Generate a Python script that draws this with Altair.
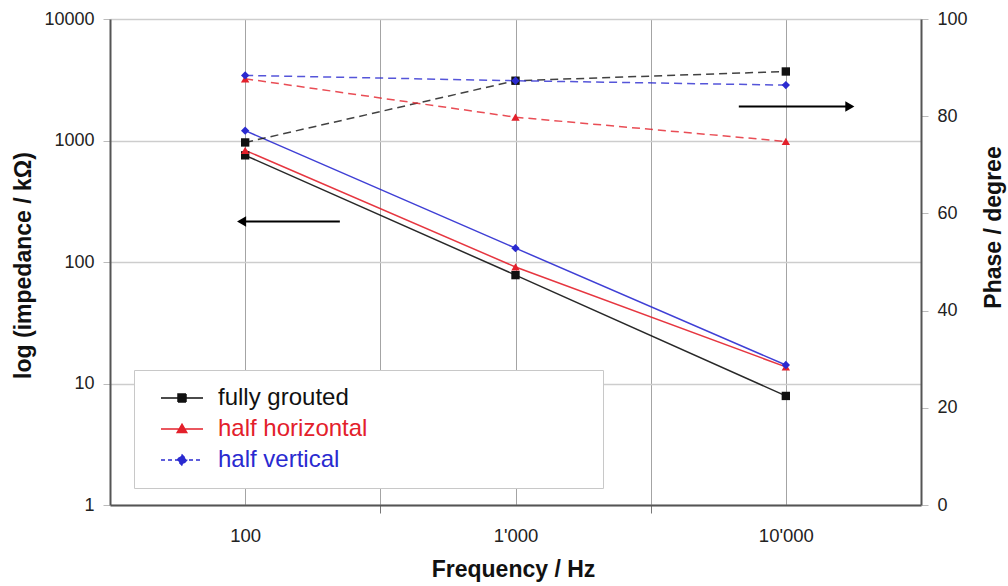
import altair as alt
import pandas as pd

# ---- data ----
freq = [100, 1000, 10000]
codes = ["FG", "HH", "HV"]
labels = ["fully grouted", "half horizontal", "half vertical"]
colors = ["#111111", "#e3202b", "#2a2ad0"]

imp_fg = [755, 78, 7.9]
imp_hh = [830, 91, 13.7]
imp_hv = [1205, 130, 14.2]

ph_fg = [74.6, 87.3, 89.2]
ph_hh = [87.7, 79.8, 74.8]
ph_hv = [88.4, 87.3, 86.4]

# arrow annotations (data coordinates)
arrow_imp_freq = [224]
arrow_imp_freq2 = [97]
arrow_imp_val = [215]
arrow_ph_freq = [6700]
arrow_ph_freq2 = [17250]
arrow_ph_val = [82]

x_ticks = [100, 316.227766, 1000, 3162.27766, 10000]
y_ticks = [1, 10, 100, 1000, 10000]
ph_ticks = [0, 20, 40, 60, 80, 100]

imp_series = [imp_fg, imp_hh, imp_hv]
ph_series = [ph_fg, ph_hh, ph_hv]

df_imp = pd.DataFrame([
    {"freq": f, "code": c, "label": l, "imp": v}
    for c, l, vals in zip(codes, labels, imp_series)
    for f, v in zip(freq, vals)
])
df_ph = pd.DataFrame([
    {"freq": f, "code": c, "label": l, "phase": v}
    for c, l, vals in zip(codes, labels, ph_series)
    for f, v in zip(freq, vals)
])
df_arrow_imp = pd.DataFrame({"freq": arrow_imp_freq, "freq2": arrow_imp_freq2, "imp": arrow_imp_val})
df_arrow_ph = pd.DataFrame({"freq": arrow_ph_freq, "freq2": arrow_ph_freq2, "phase": arrow_ph_val})

FONT = "Liberation Sans"

# ---- shared scales ----
all_keys = codes + labels
color_scale = alt.Scale(domain=all_keys, range=colors + colors)
legend_paths = [
    "M-5.25,0H5.25M-1,-1H1V1H-1Z",
    "M-5.25,0H5.25M0,-1.2L1.2,0.9H-1.2Z",
    "M-5.25,0H5.25M0,-1.3L1.2,0L0,1.3L-1.2,0Z",
]
shape_scale = alt.Scale(domain=all_keys, range=["square", "triangle-up", "diamond"] + legend_paths)
dash_scale = alt.Scale(domain=all_keys, range=[[1, 0]] * 5 + [[4, 3]])

decade = "abs(log(datum.value)/LN10 - round(log(datum.value)/LN10)) < 0.01"

X = alt.X(
    "freq:Q",
    scale=alt.Scale(type="log", domain=[10 ** 1.5, 10 ** 4.5], nice=False),
    axis=alt.Axis(
        values=x_ticks,
        labelExpr=decade + " ? replace(format(datum.value, ',.0f'), ',', \"'\") : ''",
        title="Frequency / Hz",
        grid=True, gridColor="#a4a4a4", gridWidth=1,
        tickSize=8, tickColor="#777",
        tickOpacity={"condition": {"test": decade, "value": 0}, "value": 1},
        domainColor="#555", domainWidth=2,
        labelFontSize=18.5, labelColor="#222", labelPadding=13, labelFont=FONT,
        titleFontSize=23, titleFontWeight="bold", titleColor="#111", titleFont=FONT,
        titleX=403, titleY=64, titleBaseline="middle",
    ),
)

Y_imp = alt.Y(
    "imp:Q",
    scale=alt.Scale(type="log", domain=[1, 10000], nice=False),
    axis=alt.Axis(
        orient="left", values=y_ticks, format="d",
        grid=True, gridColor="#cdcdcd", gridWidth=1.5,
        tickSize=7, tickColor="#bbb",
        domainColor="#555", domainWidth=2,
        labelFontSize=18, labelColor="#222", labelPadding=9, labelFont=FONT,
        title="log (impedance / kΩ)",
        titleFontSize=23, titleFontWeight="bold", titleColor="#111", titleFont=FONT,
        titleAngle=270, titleX=-87, titleY=246, titleBaseline="middle",
    ),
)

Y_ph = alt.Y(
    "phase:Q",
    scale=alt.Scale(domain=[0, 100], nice=False),
    axis=alt.Axis(
        orient="right", values=ph_ticks, grid=False,
        tickSize=7, tickColor="#bbb",
        domainColor="#555", domainWidth=2,
        labelFontSize=18, labelColor="#222", labelPadding=9, labelFont=FONT,
        title="Phase / degree",
        titleFontSize=23, titleFontWeight="bold", titleColor="#111", titleFont=FONT,
        titleAngle=270, titleX=72, titleY=208, titleBaseline="middle",
    ),
)

label_color_expr = " : ".join(
    f"datum.value == '{l}' ? '{c}'" for l, c in zip(labels[:-1], colors[:-1])
) + f" : '{colors[-1]}'"

leg = alt.Legend(
    title=".", titleOrient="right", titlePadding=216, titleOpacity=0, titleFontSize=11,
    orient="none", legendX=24, legendY=351,
    values=labels,
    labelColor=alt.ExprRef(label_color_expr),
    labelFontSize=24, labelFont=FONT, labelLimit=800, labelOffset=24,
    symbolSize=64, symbolStrokeWidth=1.5, symbolOpacity=1, symbolOffset=20,
    padding=16, rowPadding=7,
    strokeColor="#c8c8c8", fillColor="white",
)

# ---- legend-only layer (first, so its legend settings win) ----
legend_layer = alt.Chart(df_imp).mark_point(filled=True, size=64, opacity=0, strokeWidth=1.5).encode(
    x=X, y=Y_imp,
    fill=alt.Fill("label:N", scale=color_scale, legend=leg),
    stroke=alt.Stroke("label:N", scale=color_scale, legend=leg),
    shape=alt.Shape("label:N", scale=shape_scale, legend=leg),
    strokeDash=alt.StrokeDash("label:N", scale=dash_scale, legend=leg),
)

# ---- impedance layers (left axis) ----
imp_lines = alt.Chart(df_imp).mark_line(strokeWidth=1.5, opacity=0.9).encode(
    x=X, y=Y_imp,
    stroke=alt.Stroke("code:N", scale=color_scale, legend=None),
)
imp_points = alt.Chart(df_imp).mark_point(filled=True, size=70, opacity=1).encode(
    x=X, y=Y_imp,
    fill=alt.Fill("code:N", scale=color_scale, legend=None),
    shape=alt.Shape("code:N", scale=shape_scale, legend=None),
)
arrow_imp_line = alt.Chart(df_arrow_imp).mark_rule(color="black", strokeWidth=2).encode(
    x=X, x2="freq2:Q", y=Y_imp,
)
arrow_imp_head = alt.Chart(df_arrow_imp).mark_point(
    shape="triangle-left", filled=True, color="black", size=110, opacity=1
).encode(x=alt.X("freq2:Q"), y=Y_imp)

imp_group = alt.layer(legend_layer, imp_lines, imp_points, arrow_imp_line, arrow_imp_head)

# ---- phase layers (right axis) ----
ph_lines = alt.Chart(df_ph).mark_line(strokeWidth=1.5, strokeDash=[8, 5], opacity=0.8).encode(
    x=X, y=Y_ph,
    stroke=alt.Stroke("code:N", scale=color_scale, legend=None),
)
ph_points = alt.Chart(df_ph).mark_point(filled=True, size=70, opacity=1).encode(
    x=X, y=Y_ph,
    fill=alt.Fill("code:N", scale=color_scale, legend=None),
    shape=alt.Shape("code:N", scale=shape_scale, legend=None),
)
arrow_ph_line = alt.Chart(df_arrow_ph).mark_rule(color="black", strokeWidth=2).encode(
    x=X, x2="freq2:Q", y=Y_ph,
)
arrow_ph_head = alt.Chart(df_arrow_ph).mark_point(
    shape="triangle-right", filled=True, color="black", size=110, opacity=1
).encode(x=alt.X("freq2:Q"), y=Y_ph)

ph_group = alt.layer(ph_lines, ph_points, arrow_ph_line, arrow_ph_head)

chart = (
    alt.layer(imp_group, ph_group)
    .resolve_scale(y="independent")
    .properties(
        width=811, height=486,
        padding={"left": 110, "top": 19, "right": 87, "bottom": 81},
        autosize=alt.AutoSizeParams(type="none"),
        background="white",
    )
    .configure_view(stroke="#555", strokeWidth=2)
    .configure(font=FONT)
)

chart.save("out.html", embed_options={"renderer": "svg", "actions": False})
